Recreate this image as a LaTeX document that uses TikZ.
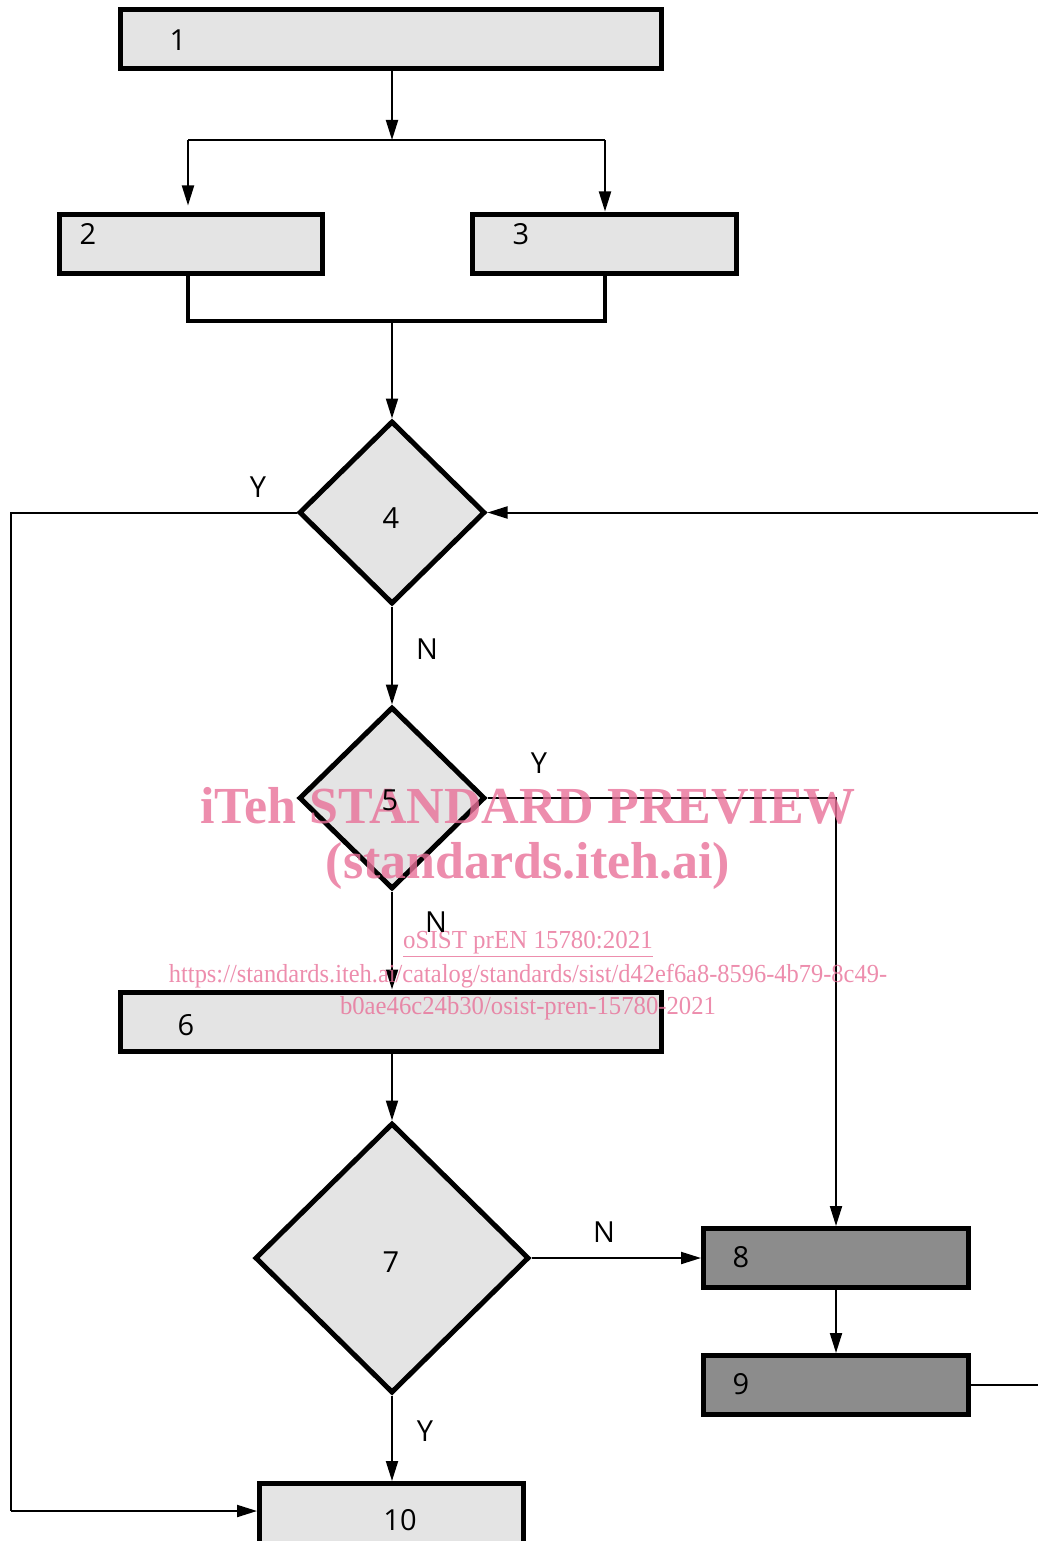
\documentclass[tikz,border=0pt]{standalone}
\usepackage{fontspec}
\setmainfont{Liberation Serif}
\newfontfamily\labfont{Open Sans}
\usetikzlibrary{arrows.meta,shapes.geometric}
\definecolor{boxfill}{RGB}{228,228,228}
\definecolor{darkfill}{RGB}{140,140,140}
\definecolor{wmcol}{RGB}{232,112,152}
\tikzset{
  box/.style={draw=black, line width=5pt, fill=boxfill, inner sep=0pt, minimum width=#1, minimum height=59pt},
  darkbox/.style={box=#1, fill=darkfill},
  dia/.style={draw=black, line width=5pt, fill=boxfill, diamond, inner sep=0pt, font=\labfont\fontsize{29}{30}\selectfont},
  lbl/.style={font=\labfont\fontsize{29}{30}\selectfont, inner sep=0pt},
  conn/.style={draw=black, line width=2pt},
  arr/.style={conn, -{Triangle[length=20pt,width=12pt]}},
  wmbig/.style={text=wmcol, opacity=0.8, font=\bfseries\fontsize{52}{56}\selectfont, inner sep=0pt},
  wmsmall/.style={text=wmcol, opacity=0.8, font=\fontsize{26}{28}\selectfont, inner sep=0pt}
}
\begin{document}
\begin{tikzpicture}[x=1pt,y=-1pt]
\useasboundingbox (0,0) rectangle (1038,1541);
\clip (0,0) rectangle (1038,1541);

% boxes
\node[box=541pt] (b1) at (391,39.5) {};
\node[box=263pt] (b2) at (191,243.5) {};
\node[box=264pt] (b3) at (604.5,243.5) {};
\node[box=541pt] (b6) at (391,1021.5) {};
\node[darkbox=265pt] (b8) at (836,1258) {};
\node[darkbox=265pt] (b9) at (836,1385) {};
\node[box=264pt, minimum height=92pt] (b10) at (391.5,1529.5) {};

% diamonds
\node[dia, minimum width=186pt, minimum height=183pt] (d4) at (392,512.5) {};
\node[dia, minimum width=186pt, minimum height=182pt] (d5) at (392,798) {};
\node[dia, minimum width=274pt, minimum height=270pt] (d7) at (392,1258) {};

% coordinates
\coordinate (split) at (392,140);
\coordinate (s2) at (188,140);
\coordinate (s3) at (605,140);
\coordinate (m2) at (188,321);
\coordinate (m3) at (605,321);
\coordinate (mc) at (392,321);
\coordinate (lb) at (11,1511);
\coordinate (re4) at (1038,512.5);
\coordinate (re9) at (1038,1385);

% connectors
\draw[arr] (b1.south -| split) -- (split);
\draw[conn] (s2) -- (s3);
\draw[arr, shorten >=6pt] (s2) -- (s2 |- b2.north);
\draw[arr] (s3) -- (s3 |- b3.north);
\draw[draw=black, line width=4.5pt] (b2.south -| m2) -- (m2) -- (m3) -- (b3.south -| m3);
\draw[arr] (mc) -- (d4.north);
\draw[conn] (d4.west) -| (lb);
\draw[arr] (lb) -- (lb -| b10.west);
\draw[arr] (re4) -- (d4.east);
\draw[arr] (d4.south) -- (d5.north);
\draw[arr] (d5.east) -| (b8.north);
\draw[arr] (d5.south) -- (b6.north -| d5.south);
\draw[arr] (b6.south -| d7.north) -- (d7.north);
\draw[arr] (d7.east) -- (b8.west);
\draw[arr] (b8.south) -- (b9.north);
\draw[conn] (b9.east) -- (re9);
\draw[arr] (d7.south) -- (b10.north -| d7.south);

% watermark
\node[wmbig] (w1) at (528,806) {iTeh STANDARD PREVIEW};
\node[wmbig] (w2) at (528,866) {(standards.iteh.ai)};
\node[wmsmall] (w3) at (528,944) {\scalebox{0.96}[1]{\underline{oSIST prEN 15780:2021}}};
\node[wmsmall] (w4) at (528,976) {\scalebox{0.94}[1]{https://standards.iteh.ai/catalog/standards/sist/d42ef6a8-8596-4b79-8c49-}};
\node[wmsmall] (w5) at (528,1008) {\scalebox{0.95}[1]{b0ae46c24b30/osist-pren-15780-2021}};

% box labels
\node[lbl] (t1) at (178,40) {1};
\node[lbl] (t2) at (88,234) {2};
\node[lbl] (t3) at (521,234) {3};
\node[lbl] (t4) at (391,518) {4};
\node[lbl] (t5) at (390,800) {5};
\node[lbl] (t6) at (186,1025) {6};
\node[lbl] (t7) at (391,1262) {7};
\node[lbl] (t8) at (741,1257) {8};
\node[lbl] (t9) at (741,1384) {9};
\node[lbl] (t10) at (400,1520) {10};

% connector labels
\node[lbl] (y4) at (258,487) {Y};
\node[lbl] (n4) at (427,649) {N};
\node[lbl] (y5) at (539,763) {Y};
\node[lbl] (n5) at (436,922) {N};
\node[lbl] (n7) at (604,1232) {N};
\node[lbl] (y7) at (425,1431) {Y};
\end{tikzpicture}
\end{document}
